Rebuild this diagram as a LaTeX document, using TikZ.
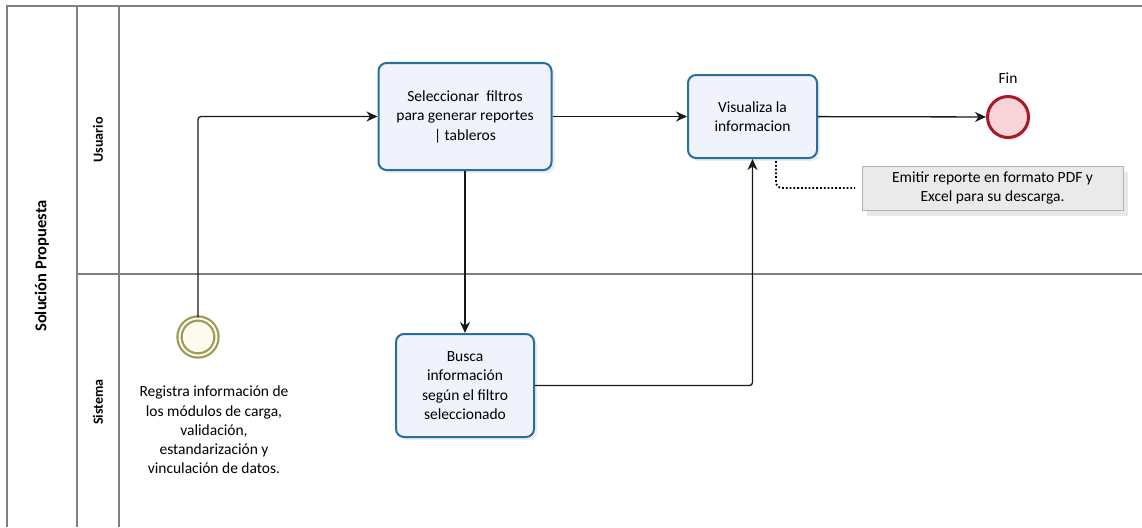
\documentclass[tikz,border=0pt]{standalone}
\usepackage{fontspec}
\setmainfont{Carlito}
\usepackage{xcolor}
\usetikzlibrary{calc,shapes,positioning,shadows,arrows.meta}

\definecolor{laneline}{RGB}{128,128,128}
\definecolor{taskblue}{RGB}{38,112,160}
\definecolor{taskfill}{RGB}{240,242,252}
\definecolor{startolive}{RGB}{156,154,84}
\definecolor{startfill}{RGB}{253,250,240}
\definecolor{endred}{RGB}{170,24,36}
\definecolor{endfill}{RGB}{246,212,216}
\definecolor{notefill}{RGB}{234,234,234}
\definecolor{noteline}{RGB}{178,178,178}

\tikzset{
    lane/.style={draw=laneline, line width=1.4pt},
    lanelabel/.style={rotate=90, font=\bfseries\fontsize{14}{16}\selectfont},
    taskbox/.style={draw=taskblue, fill=taskfill, line width=2pt, rounded corners=8pt,
        align=center, inner sep=2pt, font=\fontsize{15.5}{19.5}\selectfont,
        drop shadow={opacity=0.15, shadow xshift=3pt, shadow yshift=-3pt}},
    startev/.style={circle, draw=startolive, line width=2.2pt, double=startfill,
        double distance=2pt, fill=startfill, minimum size=37pt, inner sep=0pt,
        drop shadow={opacity=0.12}},
    endev/.style={circle, draw=endred, line width=3pt, fill=endfill,
        minimum size=41pt, inner sep=0pt, drop shadow={opacity=0.15}},
    notebox/.style={draw=noteline, fill=notefill, minimum width=261pt, minimum height=44pt,
        align=center, inner sep=2pt, font=\fontsize{15.5}{19}\selectfont,
        drop shadow={opacity=0.18, shadow xshift=5pt, shadow yshift=-6pt}},
    flow/.style={draw=black!90, line width=1.3pt, -{Stealth[length=11pt, width=10pt, inset=3.5pt]}},
    assocline/.style={draw=black, line width=1.8pt, dotted, rounded corners=6pt}
}

\begin{document}
\begin{tikzpicture}[x=1pt, y=-1pt]
    \useasboundingbox (0,0) rectangle (1142,527);

    % pool and lanes
    \draw[lane] (7,527) -- (7,6) -- (1142,6);
    \draw[lane] (77,6) -- (77,527);
    \draw[lane] (119,6) -- (119,527);
    \draw[lane] (77,274) -- (1142,274);
    \node[lanelabel, font=\bfseries\fontsize{16.5}{18}\selectfont] (pool) at (42,266) {Solución Propuesta};
    \node[lanelabel] (usuario) at (98,140) {Usuario};
    \node[lanelabel] (sistema) at (98,402) {Sistema};

    % events and tasks
    \node[startev] (start) at (198,337) {};
    \node[align=center, font=\fontsize{15.5}{19.2}\selectfont] (startlbl) at (214,430)
        {Registra información de\\ los módulos de carga,\\ validación,\\ estandarización y\\ vinculación de datos.};
    \node[taskbox, minimum width=173pt, minimum height=107pt] (filtros) at (465,116.5)
        {Seleccionar\ \ filtros\\ para generar reportes\\ | tableros};
    \node[taskbox, minimum width=129pt, minimum height=83pt] (visualiza) at (752.5,116.5)
        {Visualiza la\\ informacion};
    \node[taskbox, minimum width=138pt, minimum height=103pt] (busca) at (465,385.5)
        {Busca\\ información\\ según el filtro\\ seleccionado};
    \node[endev] (fin) at (1008,117) {};
    \node[font=\fontsize{15.5}{17}\selectfont] (finlbl) at (1008,78) {Fin};
    \node[notebox] (nota) at (992.5,188)
        {Emitir reporte en formato PDF y\\ Excel para su descarga.};

    % sequence flows
    \draw[flow, rounded corners=3pt] (start) |- (filtros);
    \draw[flow] (filtros) -- (visualiza);
    \draw[flow] (visualiza) -- (fin);
    \draw[flow] (filtros) -- (busca);
    \draw[flow, rounded corners=3pt] (busca) -| (visualiza);

    % association
    \coordinate (assoc) at (776,161);
    \coordinate (assocend) at (855,188);
    \draw[assocline] (assoc) |- (assocend);
\end{tikzpicture}
\end{document}
